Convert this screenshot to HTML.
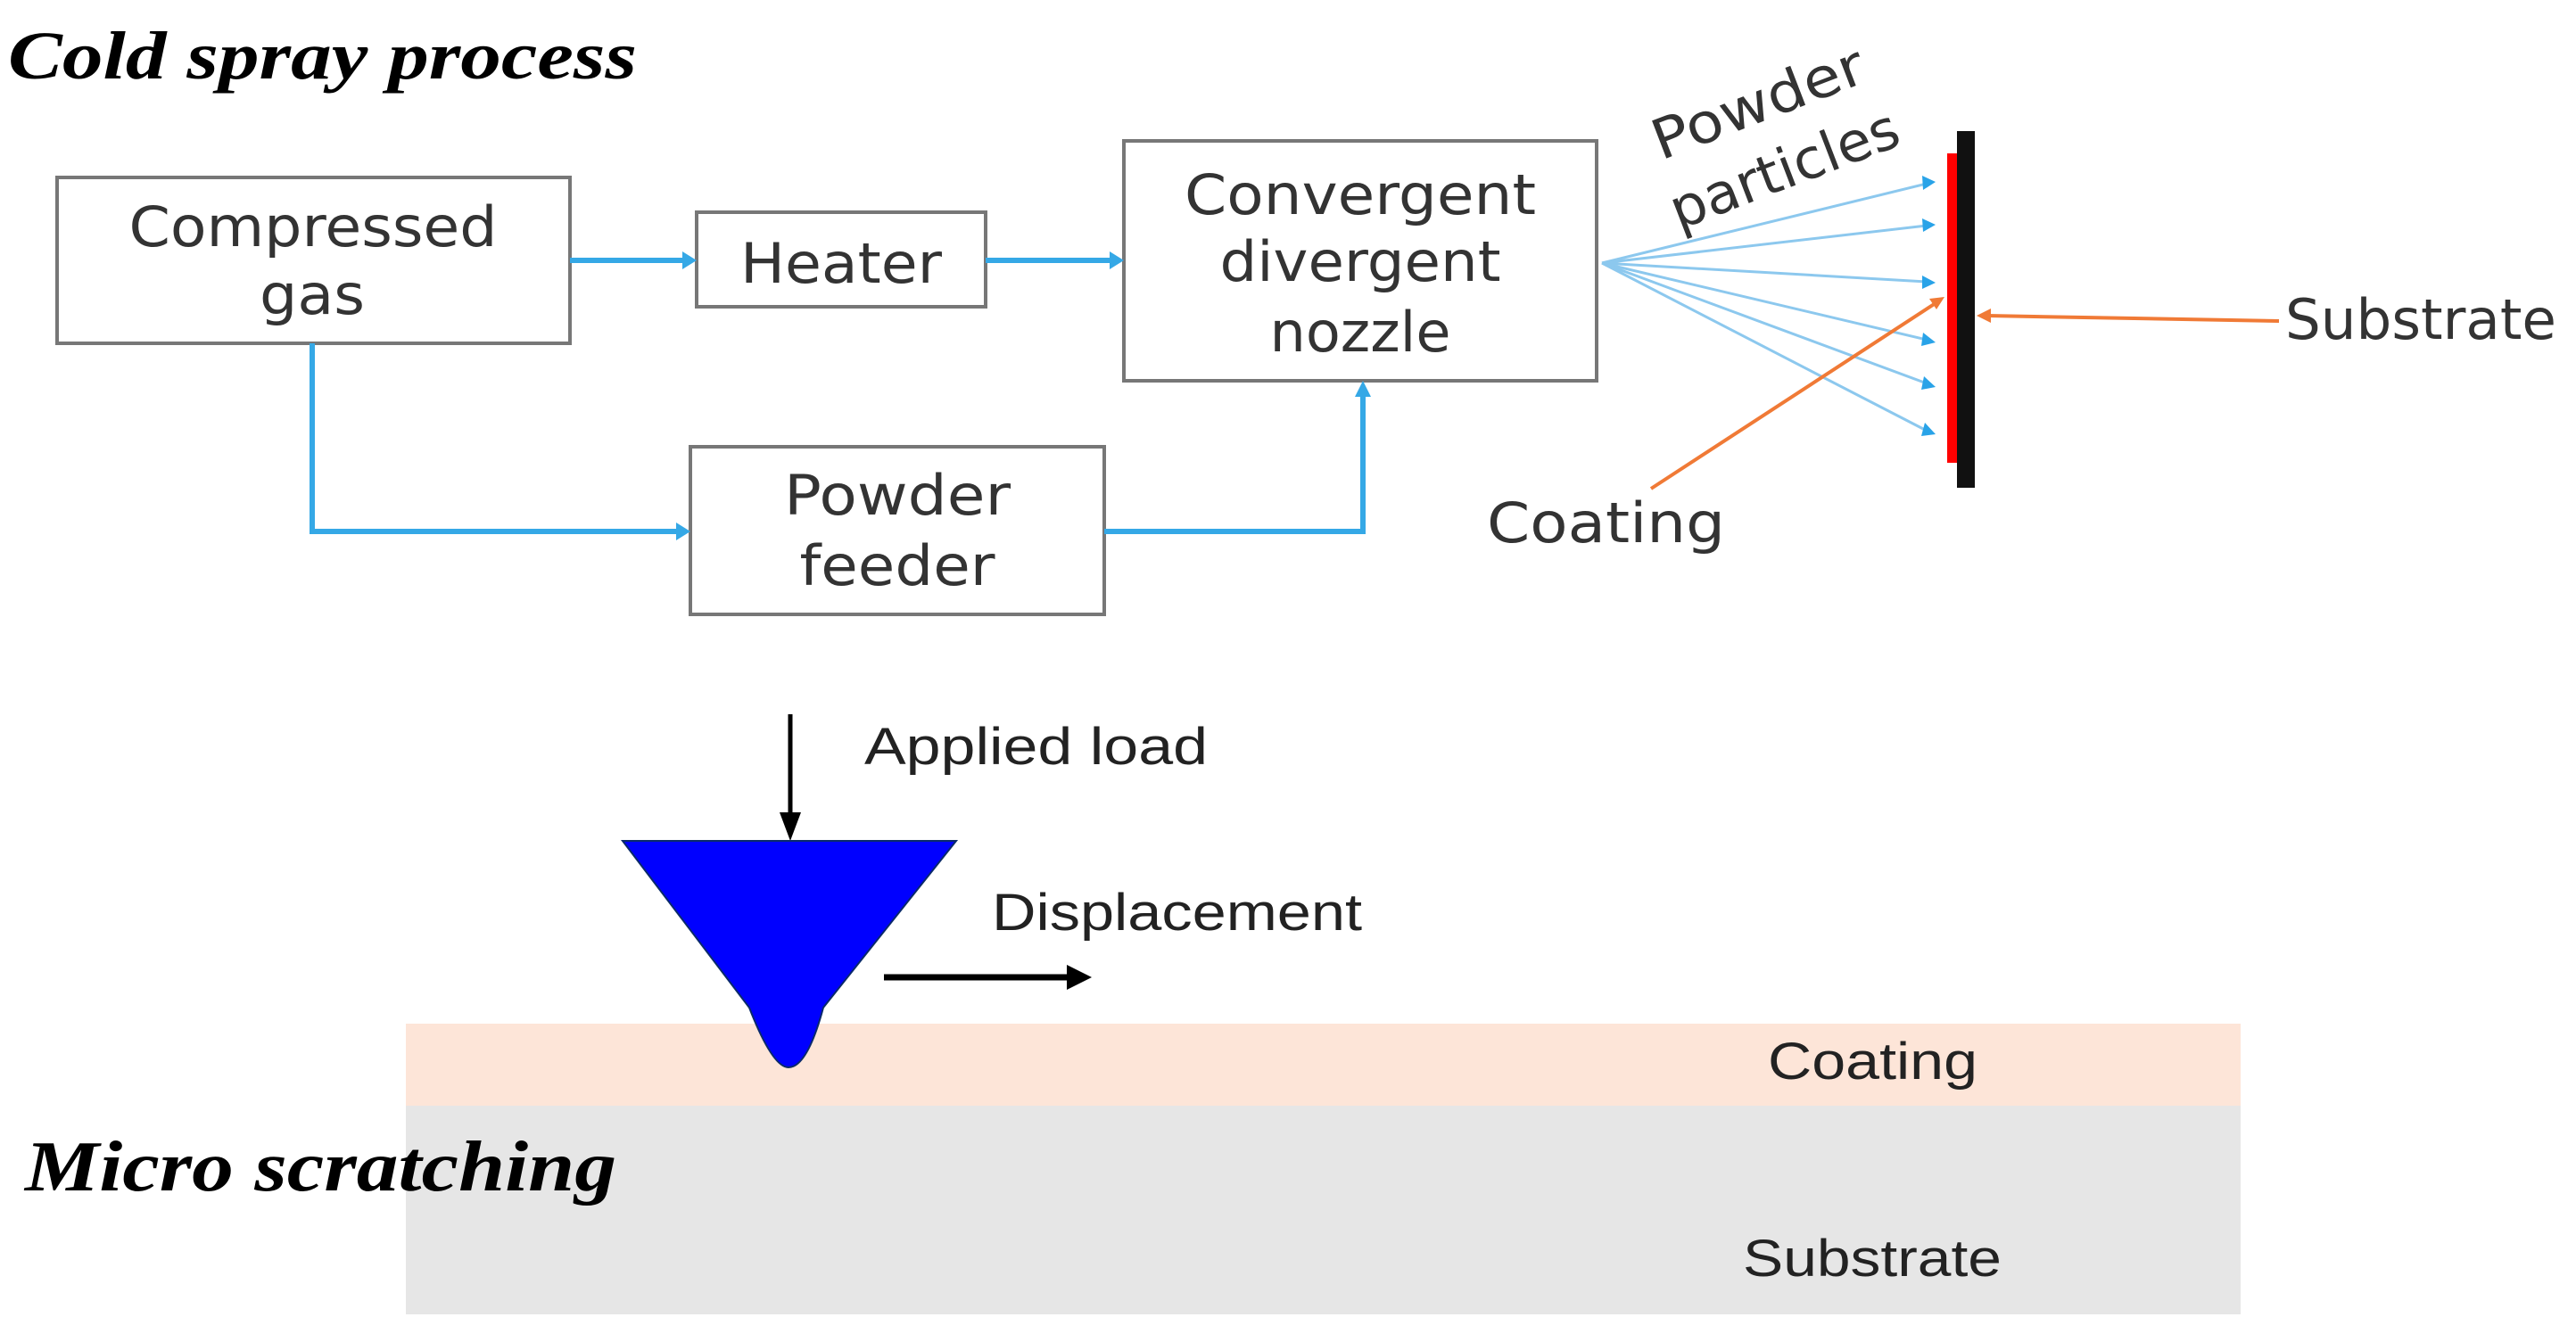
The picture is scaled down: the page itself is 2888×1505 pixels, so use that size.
<!DOCTYPE html>
<html><head><meta charset="utf-8"><style>
html,body{margin:0;padding:0;background:#fff;}
svg{display:block;}
.b{font-family:"DejaVu Sans","Liberation Sans",sans-serif;fill:#333;}
.c{font-family:"Liberation Sans",sans-serif;fill:#222;}
.t{font-family:"Liberation Serif",serif;font-style:italic;font-weight:bold;fill:#000;}
</style></head><body>
<svg width="2888" height="1505" viewBox="0 0 2888 1505" xmlns="http://www.w3.org/2000/svg">
<text class="t" x="9" y="88" font-size="76" textLength="705" lengthAdjust="spacingAndGlyphs">Cold spray process</text>

<g fill="#fff" stroke="#777" stroke-width="4">
<rect x="64" y="199" width="575" height="186"/>
<rect x="781" y="238" width="324" height="106"/>
<rect x="1260" y="158" width="530" height="269"/>
<rect x="774" y="501" width="464" height="188"/>
</g>
<g class="b" font-size="62" text-anchor="middle">
<text x="351" y="276" textLength="413" lengthAdjust="spacingAndGlyphs">Compressed</text>
<text x="350" y="352" textLength="118" lengthAdjust="spacingAndGlyphs">gas</text>
<text x="943" y="317" textLength="226" lengthAdjust="spacingAndGlyphs">Heater</text>
<text x="1525" y="240" textLength="394" lengthAdjust="spacingAndGlyphs">Convergent</text>
<text x="1525" y="315" textLength="315" lengthAdjust="spacingAndGlyphs">divergent</text>
<text x="1525" y="394" textLength="203" lengthAdjust="spacingAndGlyphs">nozzle</text>
<text x="1006" y="577" textLength="254" lengthAdjust="spacingAndGlyphs">Powder</text>
<text x="1006" y="656" textLength="219" lengthAdjust="spacingAndGlyphs">feeder</text>
</g>

<g stroke="#35a8e6" stroke-width="6" fill="none">
<line x1="639" y1="292" x2="768" y2="292"/>
<line x1="1105" y1="292" x2="1247" y2="292"/>
<polyline points="350,385 350,596 760,596"/>
<polyline points="1238,596 1528,596 1528,440"/>
</g>
<g fill="#35a8e6">
<path d="M781,292 l-16,-10 v20 z"/>
<path d="M1260,292 l-16,-10 v20 z"/>
<path d="M774,596 l-16,-10 v20 z"/>
<path d="M1528,427 l-9,18 h18 z"/>
</g>

<g stroke="#8cc8ee" stroke-width="3" fill="none">
<line x1="1796" y1="295" x2="2160" y2="206"/>
<line x1="1796" y1="295" x2="2160" y2="253"/>
<line x1="1796" y1="295" x2="2160" y2="316"/>
<line x1="1796" y1="295" x2="2160" y2="381"/>
<line x1="1796" y1="295" x2="2160" y2="430"/>
<line x1="1796" y1="295" x2="2160" y2="483"/>
</g>
<g fill="#29a3e8">
<path d="M2170,204 l-15,-7 l1,16 z"/>
<path d="M2170,252 l-15,-7 l1,15 z"/>
<path d="M2170,317 l-15,-8 l0,15 z"/>
<path d="M2170,384 l-14,-11 l-2,15 z"/>
<path d="M2170,434 l-13,-12 l-3,15 z"/>
<path d="M2170,487 l-12,-13 l-4,15 z"/>
</g>

<rect x="2183" y="172" width="11" height="347" fill="#ff0000"/>
<rect x="2194" y="147" width="20" height="400" fill="#111"/>

<g stroke="#f07a36" stroke-width="4" fill="none">
<line x1="2555" y1="360" x2="2228" y2="354"/>
<line x1="1851" y1="548" x2="2170" y2="340"/>
</g>
<path d="M2216,354 l16,-8 v16 z" fill="#f07a36"/>
<path d="M2180,333 l-17,2 l8,12 z" fill="#f07a36"/>

<g class="b" font-size="62">
<text x="2562" y="380" textLength="304" lengthAdjust="spacingAndGlyphs">Substrate</text>
<text x="1667" y="608" textLength="267" lengthAdjust="spacingAndGlyphs">Coating</text>
<text x="1862" y="180" transform="rotate(-21 1862 180)" textLength="250" lengthAdjust="spacingAndGlyphs">Powder</text>
<text x="1882" y="258" transform="rotate(-21 1882 258)" textLength="270" lengthAdjust="spacingAndGlyphs">particles</text>
</g>

<rect x="455" y="1148" width="2057" height="92" fill="#fde5d8"/>
<rect x="455" y="1240" width="2057" height="234" fill="#e6e6e6"/>

<line x1="886" y1="801" x2="886" y2="915" stroke="#000" stroke-width="5"/>
<path d="M886,943 l-12,-32 h24 z" fill="#000"/>
<path d="M698,943 L1072,943 L923,1130 Q905,1197 884,1197 Q866,1197 840,1130 Z" fill="#0000ff" stroke="#0a2a6a" stroke-width="2"/>
<line x1="991" y1="1096" x2="1200" y2="1096" stroke="#000" stroke-width="7"/>
<path d="M1224,1096 l-28,-14 v28 z" fill="#000"/>

<g class="c" font-size="58">
<text x="969" y="857" textLength="385" lengthAdjust="spacingAndGlyphs">Applied load</text>
<text x="1112" y="1043" textLength="415" lengthAdjust="spacingAndGlyphs">Displacement</text>
<text x="1982" y="1210" textLength="235" lengthAdjust="spacingAndGlyphs">Coating</text>
<text x="1954" y="1431" textLength="290" lengthAdjust="spacingAndGlyphs">Substrate</text>
</g>
<text class="t" x="28" y="1335" font-size="80" textLength="663" lengthAdjust="spacingAndGlyphs">Micro scratching</text>
</svg>
</body></html>
